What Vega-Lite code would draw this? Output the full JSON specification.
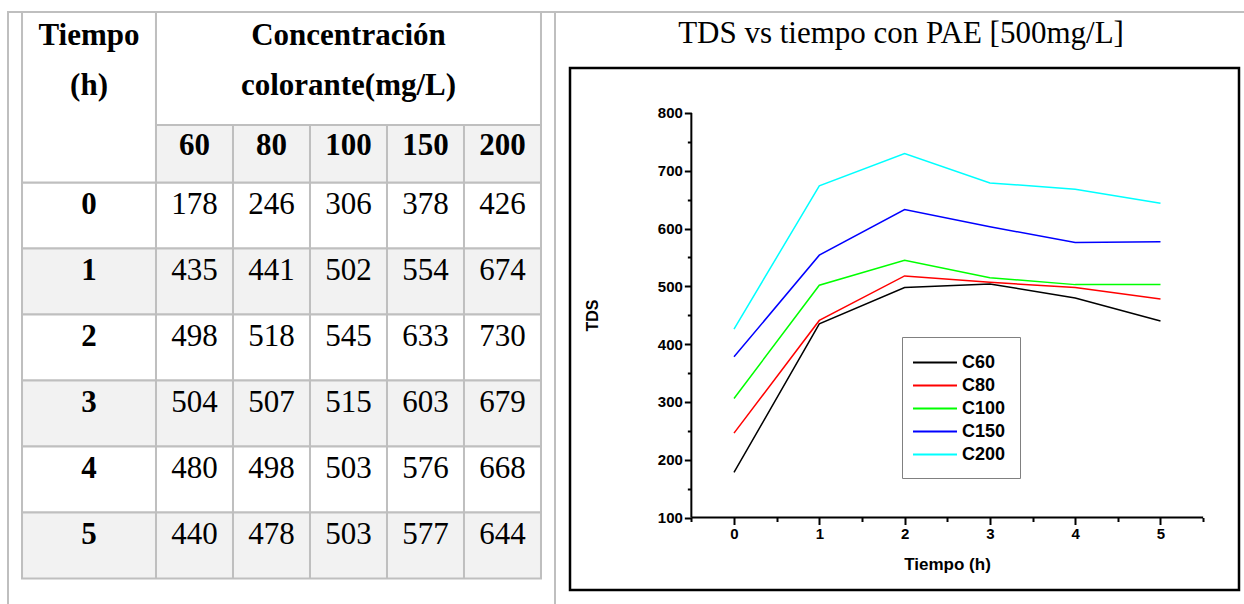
{
  "$schema": "https://vega.github.io/schema/vega-lite/v6.json",
  "background": "white",
  "padding": {"left": 7, "top": 10, "right": 0, "bottom": 0},
  "spacing": 0,
  "bounds": "flush",
  "resolve": {"legend": {"color": "independent"}},
  "config": {
    "view": {"stroke": "#bfbfbf", "strokeWidth": 2},
    "font": "Liberation Sans"
  },
  "datasets": {
    "tds": [
      {"t": 0, "C60": 178, "C80": 246, "C100": 306, "C150": 378, "C200": 426},
      {"t": 1, "C60": 435, "C80": 441, "C100": 502, "C150": 554, "C200": 674},
      {"t": 2, "C60": 498, "C80": 518, "C100": 545, "C150": 633, "C200": 730},
      {"t": 3, "C60": 504, "C80": 507, "C100": 515, "C150": 603, "C200": 679},
      {"t": 4, "C60": 480, "C80": 498, "C100": 503, "C150": 576, "C200": 668},
      {"t": 5, "C60": 440, "C80": 478, "C100": 503, "C150": 577, "C200": 644}
    ]
  },
  "hconcat": [
    {
      "width": 547,
      "height": 594,
      "resolve": {"scale": {"y": "independent"}},
      "layer": [
        {
          "data": {"name": "tds"},
          "layer": [
            {
              "mark": {"type": "rect", "stroke": "#bfbfbf", "strokeWidth": 2},
              "encoding": {
                "x": {"datum": -0.74, "type": "quantitative", "scale": {"domain": [-0.922, 6.182], "nice": false, "zero": false}, "axis": null},
                "x2": {"datum": 6},
                "y": {"field": "t", "type": "ordinal", "scale": {"domain": [0, 1, 2, 3, 4, 5], "range": [170.5, 566.5], "paddingInner": 0, "paddingOuter": 0}, "axis": null},
                "fill": {"condition": {"test": "datum.t % 2 === 1", "value": "#f2f2f2"}, "value": "#ffffff"}
              }
            },
            {
              "mark": {"type": "text", "font": "Liberation Serif", "fontSize": 31, "fontWeight": "bold", "baseline": "alphabetic", "align": "center", "color": "black"},
              "encoding": {
                "x": {"datum": 0.13, "type": "quantitative"},
                "y": {"field": "t", "type": "ordinal", "bandPosition": 0.47},
                "text": {"field": "t"}
              }
            },
            {
              "mark": {"type": "text", "font": "Liberation Serif", "fontSize": 31, "baseline": "alphabetic", "align": "center", "color": "black"},
              "encoding": {"x": {"datum": 1.5, "type": "quantitative"}, "y": {"field": "t", "type": "ordinal", "bandPosition": 0.47}, "text": {"field": "C60"}}
            },
            {
              "mark": {"type": "text", "font": "Liberation Serif", "fontSize": 31, "baseline": "alphabetic", "align": "center", "color": "black"},
              "encoding": {"x": {"datum": 2.5, "type": "quantitative"}, "y": {"field": "t", "type": "ordinal", "bandPosition": 0.47}, "text": {"field": "C80"}}
            },
            {
              "mark": {"type": "text", "font": "Liberation Serif", "fontSize": 31, "baseline": "alphabetic", "align": "center", "color": "black"},
              "encoding": {"x": {"datum": 3.5, "type": "quantitative"}, "y": {"field": "t", "type": "ordinal", "bandPosition": 0.47}, "text": {"field": "C100"}}
            },
            {
              "mark": {"type": "text", "font": "Liberation Serif", "fontSize": 31, "baseline": "alphabetic", "align": "center", "color": "black"},
              "encoding": {"x": {"datum": 4.5, "type": "quantitative"}, "y": {"field": "t", "type": "ordinal", "bandPosition": 0.47}, "text": {"field": "C150"}}
            },
            {
              "mark": {"type": "text", "font": "Liberation Serif", "fontSize": 31, "baseline": "alphabetic", "align": "center", "color": "black"},
              "encoding": {"x": {"datum": 5.5, "type": "quantitative"}, "y": {"field": "t", "type": "ordinal", "bandPosition": 0.47}, "text": {"field": "C200"}}
            }
          ]
        },
        {
          "data": {"values": [{}]},
          "layer": [
            {
              "mark": {"type": "rect", "fill": "#ffffff", "stroke": "#bfbfbf", "strokeWidth": 2},
              "encoding": {
                "x": {"datum": -0.74, "type": "quantitative", "scale": {"domain": [-0.922, 6.182], "nice": false, "zero": false}, "axis": null},
                "x2": {"datum": 1},
                "y": {"datum": -2.5833, "type": "quantitative", "scale": {"domain": [-2.5833, 6.4167], "reverse": true, "nice": false, "zero": false}, "axis": null},
                "y2": {"datum": 0}
              }
            },
            {
              "mark": {"type": "rect", "fill": "#ffffff", "stroke": "#bfbfbf", "strokeWidth": 2},
              "encoding": {"x": {"datum": 1, "type": "quantitative"}, "x2": {"datum": 6}, "y": {"datum": -2.5833, "type": "quantitative"}, "y2": {"datum": -0.8712}}
            },
            {
              "mark": {"type": "rect", "fill": "#f2f2f2", "stroke": "#bfbfbf", "strokeWidth": 2},
              "encoding": {"x": {"datum": 1, "type": "quantitative"}, "x2": {"datum": 6}, "y": {"datum": -0.8712, "type": "quantitative"}, "y2": {"datum": 0}}
            },
            {
              "mark": {"type": "rule", "color": "#bfbfbf", "strokeWidth": 2},
              "encoding": {"x": {"datum": 1, "type": "quantitative"}, "y": {"datum": 0, "type": "quantitative"}, "y2": {"datum": 6}}
            },
            {
              "mark": {"type": "rule", "color": "#bfbfbf", "strokeWidth": 2},
              "encoding": {"x": {"datum": 2, "type": "quantitative"}, "y": {"datum": -0.8712, "type": "quantitative"}, "y2": {"datum": 6}}
            },
            {
              "mark": {"type": "rule", "color": "#bfbfbf", "strokeWidth": 2},
              "encoding": {"x": {"datum": 3, "type": "quantitative"}, "y": {"datum": -0.8712, "type": "quantitative"}, "y2": {"datum": 6}}
            },
            {
              "mark": {"type": "rule", "color": "#bfbfbf", "strokeWidth": 2},
              "encoding": {"x": {"datum": 4, "type": "quantitative"}, "y": {"datum": -0.8712, "type": "quantitative"}, "y2": {"datum": 6}}
            },
            {
              "mark": {"type": "rule", "color": "#bfbfbf", "strokeWidth": 2},
              "encoding": {"x": {"datum": 5, "type": "quantitative"}, "y": {"datum": -0.8712, "type": "quantitative"}, "y2": {"datum": 6}}
            },
            {
              "mark": {"type": "text", "font": "Liberation Serif", "fontSize": 31, "fontWeight": "bold", "baseline": "alphabetic", "align": "center", "color": "black", "lineHeight": 50},
              "encoding": {"x": {"datum": 0.13, "type": "quantitative"}, "y": {"datum": -2.0833, "type": "quantitative"}, "text": {"value": ["Tiempo", "(h)"]}}
            },
            {
              "mark": {"type": "text", "font": "Liberation Serif", "fontSize": 31, "fontWeight": "bold", "baseline": "alphabetic", "align": "center", "color": "black", "lineHeight": 50},
              "encoding": {"x": {"datum": 3.5, "type": "quantitative"}, "y": {"datum": -2.0833, "type": "quantitative"}, "text": {"value": ["Concentración", "colorante(mg/L)"]}}
            },
            {
              "mark": {"type": "text", "font": "Liberation Serif", "fontSize": 31, "fontWeight": "bold", "baseline": "alphabetic", "align": "center", "color": "black"},
              "encoding": {"x": {"datum": 1.5, "type": "quantitative"}, "y": {"datum": -0.4242, "type": "quantitative"}, "text": {"value": "60"}}
            },
            {
              "mark": {"type": "text", "font": "Liberation Serif", "fontSize": 31, "fontWeight": "bold", "baseline": "alphabetic", "align": "center", "color": "black"},
              "encoding": {"x": {"datum": 2.5, "type": "quantitative"}, "y": {"datum": -0.4242, "type": "quantitative"}, "text": {"value": "80"}}
            },
            {
              "mark": {"type": "text", "font": "Liberation Serif", "fontSize": 31, "fontWeight": "bold", "baseline": "alphabetic", "align": "center", "color": "black"},
              "encoding": {"x": {"datum": 3.5, "type": "quantitative"}, "y": {"datum": -0.4242, "type": "quantitative"}, "text": {"value": "100"}}
            },
            {
              "mark": {"type": "text", "font": "Liberation Serif", "fontSize": 31, "fontWeight": "bold", "baseline": "alphabetic", "align": "center", "color": "black"},
              "encoding": {"x": {"datum": 4.5, "type": "quantitative"}, "y": {"datum": -0.4242, "type": "quantitative"}, "text": {"value": "150"}}
            },
            {
              "mark": {"type": "text", "font": "Liberation Serif", "fontSize": 31, "fontWeight": "bold", "baseline": "alphabetic", "align": "center", "color": "black"},
              "encoding": {"x": {"datum": 5.5, "type": "quantitative"}, "y": {"datum": -0.4242, "type": "quantitative"}, "text": {"value": "200"}}
            }
          ]
        }
      ]
    },
    {
      "width": 692,
      "height": 594,
      "title": {"text": "TDS vs tiempo con PAE [500mg/L]", "font": "Liberation Serif", "fontSize": 31, "fontWeight": "normal", "color": "black", "anchor": "middle", "frame": "group", "offset": -38},
      "layer": [
        {
          "data": {"name": "tds"},
          "transform": [{"fold": ["C60", "C80", "C100", "C150", "C200"], "as": ["serie", "tds"]}],
          "mark": {"type": "line", "strokeWidth": 1.5},
          "encoding": {
            "x": {
              "field": "t", "type": "quantitative",
              "scale": {"domain": [-2.0985, 6.0141], "nice": false, "zero": false},
              "axis": {
                "values": [-0.5, 0, 0.5, 1, 1.5, 2, 2.5, 3, 3.5, 4, 4.5, 5, 5.5],
                "domain": false, "grid": false, "offset": -88.5,
                "tickColor": "black", "tickWidth": 2,
                "tickSize": {"condition": {"test": "datum.value % 1 !== 0", "value": 4}, "value": 7},
                "labelExpr": "datum.value % 1 === 0 ? '' + datum.value : ''",
                "labelFont": "Liberation Sans", "labelFontWeight": "bold", "labelFontSize": 15, "labelColor": "black",
                "labelPadding": 2, "labelFlush": false, "labelOverlap": false,
                "title": "Tiempo (h)", "titleFont": "Liberation Sans", "titleFontWeight": "bold", "titleFontSize": 17, "titleColor": "black",
                "titleX": 392, "titleY": 46.5, "titleBaseline": "middle", "titleAlign": "center"
              }
            },
            "y": {
              "field": "tds", "type": "quantitative",
              "scale": {"domain": [-53.15, 974.78], "nice": false, "zero": false},
              "axis": {
                "values": [100, 150, 200, 250, 300, 350, 400, 450, 500, 550, 600, 650, 700, 750, 800],
                "domain": false, "grid": false, "offset": -136.35,
                "tickColor": "black", "tickWidth": 2,
                "tickSize": {"condition": {"test": "datum.value % 100 !== 0", "value": 4}, "value": 7},
                "labelExpr": "datum.value % 100 === 0 ? datum.label : ''",
                "labelFont": "Liberation Sans", "labelFontWeight": "bold", "labelFontSize": 15, "labelColor": "black",
                "labelPadding": 2, "labelFlush": false, "labelOverlap": false,
                "title": "TDS", "titleFont": "Liberation Sans", "titleFontWeight": "bold", "titleFontSize": 16, "titleColor": "black",
                "titleX": -99.35, "titleY": 303, "titleBaseline": "middle", "titleAlign": "center", "titleAngle": 270
              }
            },
            "color": {
              "field": "serie", "type": "nominal",
              "scale": {"domain": ["C60", "C80", "C100", "C150", "C200"], "range": ["#000000", "#ff0000", "#00ff00", "#0000ff", "#00ffff"]},
              "legend": {
                "orient": "none", "legendX": 347, "legendY": 325, "title": null,
                "symbolType": "M-1.38,0H2.81", "symbolSize": 441, "symbolStrokeWidth": 2, "symbolFillColor": "transparent",
                "labelFont": "Liberation Sans", "labelFontSize": 18, "labelFontWeight": "bold", "labelColor": "black",
                "labelOffset": 23, "padding": 14, "rowPadding": 2,
                "strokeColor": "#808080", "fillColor": "#ffffff"
              }
            }
          }
        },
        {
          "data": {"values": [{}]},
          "mark": {"type": "rect", "fillOpacity": 0, "stroke": "black", "strokeWidth": 2.5},
          "encoding": {
            "x": {"datum": -1.9226, "type": "quantitative"},
            "x2": {"datum": 5.9203},
            "y": {"datum": 877.9, "type": "quantitative"},
            "y2": {"datum": -25.5}
          }
        },
        {
          "data": {"values": [{}]},
          "mark": {"type": "rule", "color": "black", "strokeWidth": 2},
          "encoding": {"x": {"datum": -0.5, "type": "quantitative"}, "x2": {"datum": 5.5}, "y": {"datum": 100, "type": "quantitative"}}
        },
        {
          "data": {"values": [{}]},
          "mark": {"type": "rule", "color": "black", "strokeWidth": 2},
          "encoding": {"x": {"datum": -0.5, "type": "quantitative"}, "y": {"datum": 100, "type": "quantitative"}, "y2": {"datum": 800}}
        }
      ]
    }
  ]
}
